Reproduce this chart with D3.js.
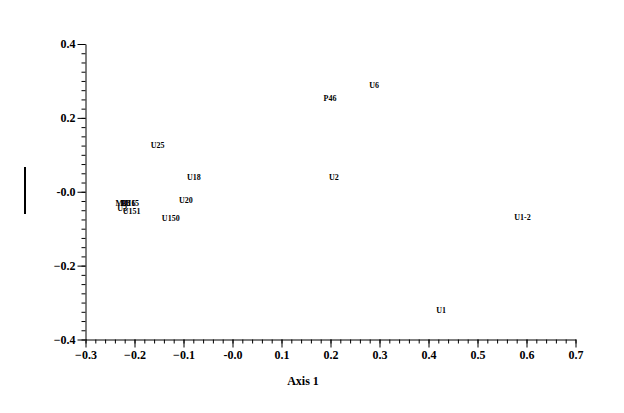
<!DOCTYPE html>
<html><head><meta charset="utf-8">
<script src="https://cdn.jsdelivr.net/npm/d3@7"></script>
<style>body{margin:0;background:#fff}svg{display:block}</style>
</head><body>
<svg id="c" width="624" height="413"></svg>
<script>
const labels = ["U6","P46","U25","U18","U2","U20","U150","U1-2","U1","U151","M1","B8","U16","U15","U3"];
const axis1 = [0.289,0.199,-0.153,-0.079,0.207,-0.095,-0.126,0.592,0.426,-0.206,-0.227,-0.218,-0.212,-0.205,-0.225];
const axis2 = [0.289,0.254,0.126,0.039,0.039,-0.023,-0.072,-0.069,-0.319,-0.053,-0.030,-0.030,-0.030,-0.030,-0.043];
const xMajor = [-0.3,-0.2,-0.1,0,0.1,0.2,0.3,0.4,0.5,0.6,0.7];
const yMajor = [0.4,0.2,0,-0.2,-0.4];

const svg = d3.select("#c");
const x = d3.scaleLinear().domain([-0.3,0.7]).range([85.5,575.5]);
const y = d3.scaleLinear().domain([-0.4,0.4]).range([339.5,44]);
const fmt = d => Math.abs(d) < 1e-9 ? "-0.0" : d3.format(".1f")(d);
const font = "'Liberation Serif','Times New Roman',serif";

const xMinor = d3.range(0,51).map(i => -0.3 + i*0.02);
const yMinor = d3.range(0,33).map(i => -0.4 + i*0.025);

// X axis
svg.append("g").attr("transform","translate(0,339.5)")
  .call(d3.axisBottom(x).tickValues(xMinor).tickSize(4).tickFormat(""))
  .call(g=>g.select(".domain").remove())
  .call(g=>g.selectAll("line").attr("stroke","#000"));
const gx = svg.append("g").attr("transform","translate(0,339.5)")
  .call(d3.axisBottom(x).tickValues(xMajor).tickSize(8).tickSizeOuter(0).tickFormat(fmt).tickPadding(3));
gx.selectAll("text").attr("font-family",font).attr("font-weight","bold").attr("font-size",12).attr("fill","#000");
gx.selectAll("line,path").attr("stroke","#000");

// Y axis
svg.append("g").attr("transform","translate(85.5,0)")
  .call(d3.axisLeft(y).tickValues(yMinor).tickSize(4).tickFormat(""))
  .call(g=>g.select(".domain").remove())
  .call(g=>g.selectAll("line").attr("stroke","#000"));
const gy = svg.append("g").attr("transform","translate(85.5,0)")
  .call(d3.axisLeft(y).tickValues(yMajor).tickSize(8).tickSizeOuter(0).tickFormat(fmt).tickPadding(2));
gy.selectAll("text").attr("font-family",font).attr("font-weight","bold").attr("font-size",12).attr("fill","#000");
gy.selectAll("line,path").attr("stroke","#000");

// axis title
svg.append("text").attr("x",303).attr("y",385).attr("text-anchor","middle")
  .attr("font-family",font).attr("font-weight","bold").attr("font-size",12).text("Axis 1");

// vertical bar at left (axis 2 marker)
svg.append("line").attr("x1",25).attr("x2",25).attr("y1",167).attr("y2",214)
  .attr("stroke","#000").attr("stroke-width",2);

// point labels
svg.append("g").selectAll("text").data(labels).join("text")
  .attr("x",(d,i)=>x(axis1[i])).attr("y",(d,i)=>y(axis2[i])+3)
  .attr("text-anchor","middle").attr("font-family",font).attr("font-weight","bold")
  .attr("font-size",8).attr("fill","#000").text(d=>d);
</script>
</body></html>
